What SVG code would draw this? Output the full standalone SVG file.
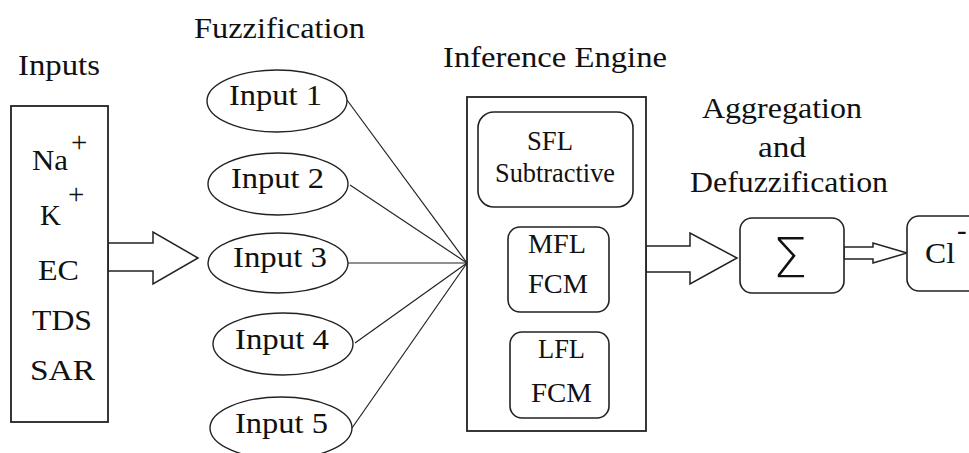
<svg xmlns="http://www.w3.org/2000/svg" width="969" height="453" viewBox="0 0 969 453">
<style>
text { font-family: 'Liberation Serif', 'DejaVu Serif', 'Times New Roman', serif; font-size: 29px; fill: #111; }
.sm { font-size: 27px; }
.sig { font-family: 'DejaVu Sans', 'Liberation Sans', sans-serif; font-size: 56px; font-weight: 200; }
.box { fill: #fff; stroke: #222; stroke-width: 1.8; }
.rbox { fill: #fff; stroke: #222; stroke-width: 1.6; }
.ell { fill: #fff; stroke: #222; stroke-width: 1.4; }
.conn { fill: none; stroke: #222; stroke-width: 1.2; }
.barrow { fill: #fff; stroke: #222; stroke-width: 1.5; stroke-linejoin: miter; }
</style>
<rect width="969" height="453" fill="#fff"/>

<g id="titles" font-family="Liberation Serif, DejaVu Serif, serif">
<text x="18" y="75" textLength="82" lengthAdjust="spacingAndGlyphs">Inputs</text>
<text x="194" y="38" textLength="171" lengthAdjust="spacingAndGlyphs">Fuzzification</text>
<text x="443" y="67" textLength="224" lengthAdjust="spacingAndGlyphs">Inference Engine</text>
<text x="702" y="118" textLength="160" lengthAdjust="spacingAndGlyphs">Aggregation</text>
<text x="758" y="157" textLength="48" lengthAdjust="spacingAndGlyphs">and</text>
<text x="690" y="192" textLength="198" lengthAdjust="spacingAndGlyphs">Defuzzification</text>
</g>

<g id="connectors">
<polygon class="barrow" points="108,243 153,243 153,232 198,258 153,284 153,271 108,271"/>
<line class="conn" x1="347" y1="100" x2="467" y2="263"/>
<line class="conn" x1="350" y1="185" x2="467" y2="263"/>
<line class="conn" x1="348" y1="263" x2="467" y2="263"/>
<line class="conn" x1="355" y1="343" x2="467" y2="263"/>
<line class="conn" x1="352" y1="428" x2="467" y2="263"/>
<polygon class="barrow" points="646,246 690,246 690,233 737,258 690,284 690,272 646,272"/>
<polygon class="barrow" points="844,247 873,247 873,243 907,253 873,263 873,259 844,259"/>
</g>

<g id="inputs">
<rect class="box" x="11" y="106" width="97" height="316"/>
<text x="32" y="170" textLength="36" lengthAdjust="spacingAndGlyphs">Na</text>
<text x="71" y="152">+</text>
<text x="40" y="225">K</text>
<text x="68" y="204">+</text>
<text x="38" y="280" textLength="41" lengthAdjust="spacingAndGlyphs">EC</text>
<text x="32" y="330" textLength="60" lengthAdjust="spacingAndGlyphs">TDS</text>
<text x="30" y="380" textLength="65" lengthAdjust="spacingAndGlyphs">SAR</text>
</g>

<g id="input1">
<ellipse class="ell" cx="277" cy="101" rx="70" ry="31"/>
<text x="229" y="105" textLength="93" lengthAdjust="spacingAndGlyphs">Input 1</text>
</g>
<g id="input2">
<ellipse class="ell" cx="278" cy="184" rx="70" ry="31"/>
<text x="231" y="188" textLength="93" lengthAdjust="spacingAndGlyphs">Input 2</text>
</g>
<g id="input3">
<ellipse class="ell" cx="278" cy="263" rx="70" ry="30"/>
<text x="233" y="267" textLength="94" lengthAdjust="spacingAndGlyphs">Input 3</text>
</g>
<g id="input4">
<ellipse class="ell" cx="283" cy="344" rx="70" ry="31"/>
<text x="235" y="349" textLength="94" lengthAdjust="spacingAndGlyphs">Input 4</text>
</g>
<g id="input5">
<ellipse class="ell" cx="281" cy="428" rx="71" ry="31"/>
<text x="235" y="433" textLength="93" lengthAdjust="spacingAndGlyphs">Input 5</text>
</g>

<g id="inference">
<rect class="box" x="467" y="97" width="179" height="334"/>
</g>
<g id="sfl">
<rect class="rbox" x="478" y="112" width="155" height="95" rx="16"/>
<text class="sm" x="527" y="150" textLength="46" lengthAdjust="spacingAndGlyphs">SFL</text>
<text class="sm" x="495" y="182" textLength="120" lengthAdjust="spacingAndGlyphs">Subtractive</text>
</g>
<g id="mfl">
<rect class="rbox" x="508" y="227" width="101" height="85" rx="12"/>
<text class="sm" x="528" y="253" textLength="58" lengthAdjust="spacingAndGlyphs">MFL</text>
<text class="sm" x="528" y="293" textLength="60" lengthAdjust="spacingAndGlyphs">FCM</text>
</g>
<g id="lfl">
<rect class="rbox" x="510" y="332" width="99" height="86" rx="12"/>
<text class="sm" x="538" y="358" textLength="47" lengthAdjust="spacingAndGlyphs">LFL</text>
<text class="sm" x="531" y="402" textLength="61" lengthAdjust="spacingAndGlyphs">FCM</text>
</g>

<g id="sigma">
<rect class="rbox" x="740" y="218" width="104" height="75" rx="12"/>
<text class="sig" x="790" y="277" text-anchor="middle">Σ</text>
</g>

<g id="cl">
<rect class="rbox" x="907" y="216" width="80" height="75" rx="12"/>
<text x="925" y="263" textLength="30" lengthAdjust="spacingAndGlyphs">Cl</text>
<text x="957" y="240">-</text>
</g>
</svg>
